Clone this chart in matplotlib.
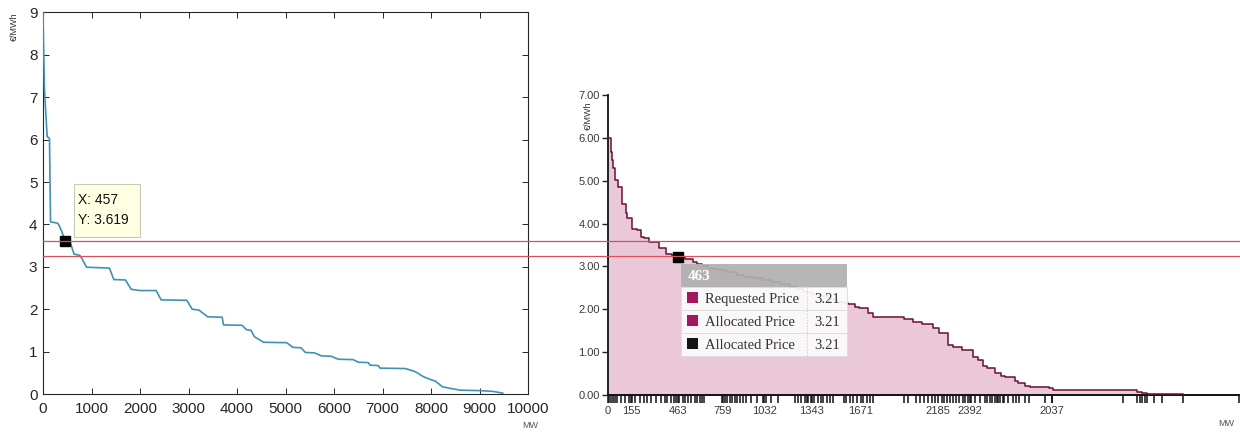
import matplotlib
matplotlib.use("Agg")
import matplotlib.pyplot as plt
from matplotlib.patches import Rectangle
from matplotlib.lines import Line2D
import matplotlib.transforms as mtransforms

# ---------------- data: left panel (MW vs €/MWh) ----------------
left_mw = [0, 12, 30, 52, 86, 134, 155, 300, 330, 380, 457, 560, 640, 760, 800,
           900, 1370, 1460, 1700, 1818, 2000, 2333, 2436, 2965, 3076, 3213, 3398,
           3694, 3722, 4107, 4190, 4290, 4361, 4546, 5027, 5151, 5320, 5410, 5598,
           5736, 5942, 6088, 6397, 6501, 6707, 6742, 6913, 6948, 7474, 7670, 7842,
           8014, 8082, 8237, 8320, 8460, 8598, 9010, 9285, 9480]
left_price = [9.0, 8.2, 7.2, 6.74, 6.07, 6.03, 4.06, 4.03, 3.98, 3.85, 3.619, 3.58,
              3.3, 3.27, 3.2, 2.99, 2.97, 2.70, 2.69, 2.47, 2.44, 2.44, 2.22, 2.21,
              2.0, 1.98, 1.82, 1.81, 1.63, 1.62, 1.52, 1.5, 1.35, 1.22, 1.21, 1.10,
              1.09, 0.98, 0.97, 0.90, 0.89, 0.82, 0.81, 0.75, 0.74, 0.68, 0.67, 0.61,
              0.6, 0.53, 0.41, 0.33, 0.31, 0.17, 0.15, 0.12, 0.09, 0.08, 0.06, 0.02]
left_marker_x = 457
left_marker_y = 3.619
left_xticks = list(range(0, 10001, 1000))
left_yticks = list(range(0, 10))

# reference price levels (red lines)
ref_levels = [3.619, 3.25]

# ---------------- data: right panel (step curve) ----------------
right_mw = [0, 18, 26, 35, 48, 66, 93, 117, 128, 159, 190, 216, 240, 269, 340, 384,
            420, 463, 509, 560, 586, 620, 660, 700, 741, 790, 851, 900, 960, 1027,
            1080, 1138, 1204, 1250, 1292, 1350, 1400, 1460, 1512, 1560, 1590, 1633,
            1662, 1721, 1755, 1958, 2015, 2075, 2151, 2191, 2251, 2284, 2339, 2416,
            2449, 2482, 2504, 2560, 2597, 2626, 2692, 2714, 2758, 2791, 2890, 2915,
            2945, 3497, 3530, 3563, 3805]
right_price = [6.0, 5.68, 5.48, 5.29, 5.02, 4.86, 4.45, 4.24, 4.14, 3.87, 3.84, 3.69,
               3.66, 3.56, 3.42, 3.28, 3.24, 3.21, 3.17, 3.10, 3.06, 3.02, 2.97, 2.95,
               2.92, 2.86, 2.80, 2.76, 2.72, 2.68, 2.63, 2.58, 2.53, 2.47, 2.41, 2.36,
               2.30, 2.24, 2.18, 2.14, 2.12, 2.06, 2.02, 1.92, 1.83, 1.77, 1.71, 1.66,
               1.57, 1.44, 1.17, 1.11, 1.05, 0.88, 0.82, 0.68, 0.62, 0.52, 0.44, 0.41,
               0.33, 0.27, 0.21, 0.18, 0.19, 0.17, 0.11, 0.07, 0.05, 0.03, 0.03]
right_marker_x = 463
right_marker_y = 3.21
right_xtick_pos = [0, 155, 463, 759, 1032, 1343, 1671, 2185, 2392, 2937]
right_xtick_lab = ["0", "155", "463", "759", "1032", "1343", "1671", "2185", "2392", "2037"]
right_bid_ticks = [4, 18, 33, 44, 62, 84, 110, 137, 161, 181, 209, 238, 260, 287, 320,
                   353, 375, 392, 414, 437, 452, 467, 496, 511, 529, 551, 573, 591, 606,
                   622, 635, 754, 772, 789, 805, 820, 838, 855, 871, 893, 915, 948, 988,
                   1025, 1047, 1080, 1124, 1235, 1257, 1279, 1301, 1318, 1325, 1347,
                   1362, 1391, 1407, 1424, 1446, 1468, 1490, 1561, 1574, 1601, 1618,
                   1649, 1689, 1711, 1733, 1755, 1958, 1986, 2037, 2063, 2090, 2119,
                   2141, 2163, 2207, 2222, 2240, 2262, 2280, 2302, 2324, 2346, 2361,
                   2383, 2399, 2427, 2460, 2493, 2504, 2526, 2537, 2560, 2571, 2582,
                   2593, 2610, 2619, 2648, 2681, 2698, 2720, 2758, 2787, 2890, 2934,
                   3404, 3501, 3519, 3534, 3552, 3563, 3611, 3662, 3805, 4175]
right_yticks = [0, 1, 2, 3, 4, 5, 6, 7]
tooltip_rows = [("Requested Price", "3.21", "#a3185c"),
                ("Allocated Price", "3.21", "#a3185c"),
                ("Allocated Price", "3.21", "#151515")]

# ---------------- figure ----------------
W, H = 1240, 432
fig = plt.figure(figsize=(W / 100, H / 100), dpi=100)

sans = ["Liberation Sans", "DejaVu Sans"]
narrow = ["Liberation Sans Narrow", "Liberation Sans", "DejaVu Sans"]
serif = ["Liberation Serif", "DejaVu Serif"]

def px_box(x0, y0, x1, y1):
    return [x0 / W, 1 - y1 / H, (x1 - x0) / W, (y1 - y0) / H]

# ---- left axes (MATLAB style) ----
ax1 = fig.add_axes(px_box(43, 12.4, 528, 394))
ax1.plot(left_mw, left_price, color="#3f92b3", lw=1.2, zorder=3)
ax1.plot([left_marker_x], [left_marker_y], marker="s", ms=6.5, color="black",
         mec="black", zorder=5)
ax1.set_xlim(0, 10000)
ax1.set_ylim(0, 9)
ax1.set_xticks(left_xticks)
ax1.set_yticks(left_yticks)
ax1.tick_params(direction="in", top=True, right=True, length=4, width=0.7,
                colors="#262626", labelsize=11)
ax1.tick_params(axis="x", pad=6)
ax1.tick_params(axis="y", pad=4)
for lab in ax1.get_xticklabels() + ax1.get_yticklabels():
    lab.set_family(sans)
for s in ax1.spines.values():
    s.set_color("#262626")
    s.set_linewidth(0.8)

fig.text(14 / W, 1 - 27 / H, "€/MWh", rotation=90, ha="center", va="center",
         fontsize=6.5, color="#333333", family=sans)
fig.text(530 / W, 1 - 426 / H, "MW", ha="center", va="center",
         fontsize=6.5, color="#555555", family=sans)

# ---- right axes (web chart style) ----
ax2 = fig.add_axes(px_box(608, 95, 1240, 395))
ax2.fill_between(right_mw, right_price, 0, step="post", color="#eac8d7", lw=0,
                 zorder=1)
ax2.step(right_mw, right_price, where="post", color="#6a1038", lw=1.1, zorder=3)
ax2.plot([right_marker_x], [right_marker_y], marker="s", ms=7, color="black",
         zorder=6)
ax2.set_xlim(0, 4180)
ax2.set_ylim(0, 7)
ax2.set_yticks(right_yticks)
ax2.set_yticklabels([f"{v:.2f}" for v in right_yticks])
ax2.set_xticks(right_xtick_pos)
ax2.set_xticklabels(right_xtick_lab)
ax2.set_xticks(right_bid_ticks, minor=True)
ax2.tick_params(axis="y", direction="out", length=4, width=1, colors="#222222",
                labelsize=8, pad=2)
ax2.tick_params(axis="x", which="major", direction="out", length=6, width=1.1,
                colors="#111111", labelsize=8, pad=2)
ax2.tick_params(axis="x", which="minor", direction="out", length=6, width=1.1,
                colors="#111111")
for lab in ax2.get_xticklabels() + ax2.get_yticklabels():
    lab.set_family(narrow)
    lab.set_color("#3a3a3a")
ax2.spines["top"].set_visible(False)
ax2.spines["right"].set_visible(False)
ax2.spines["left"].set_color("#222222")
ax2.spines["left"].set_linewidth(1.4)
ax2.spines["bottom"].set_color("#111111")
ax2.spines["bottom"].set_linewidth(1.4)
ax2.patch.set_alpha(0)

fig.text(588 / W, 1 - 116 / H, "€/MWh", rotation=90, ha="center", va="center",
         fontsize=6.5, color="#333333", family=sans)
fig.text(1226 / W, 1 - 424 / H, "MW", ha="center", va="center",
         fontsize=6.5, color="#555555", family=sans)

# ---- red reference lines across both panels ----
blend = mtransforms.blended_transform_factory(fig.transFigure, ax1.transData)
for lvl in ref_levels:
    fig.add_artist(Line2D([43 / W, 1.0], [lvl, lvl], transform=blend,
                          color="#d9505a", lw=0.9, zorder=10))

# ---- tooltips (overlay in pixel space) ----
ov = fig.add_axes([0, 0, 1, 1], zorder=20)
ov.set_xlim(0, W)
ov.set_ylim(H, 0)
ov.axis("off")
ov.patch.set_alpha(0)

# left tooltip
ov.add_patch(Rectangle((74, 184), 66, 53, fc="#ffffe4", ec="#c9c9b8", lw=0.8))
ov.text(78, 199.5, f"X: {left_marker_x}", ha="left", va="center", fontsize=10,
        color="#111111", family=sans)
ov.text(78, 220, f"Y: {left_marker_y}", ha="left", va="center", fontsize=10,
        color="#111111", family=sans)

# right tooltip
tx0, tx1 = 681, 847
ov.add_patch(Rectangle((tx0, 264), tx1 - tx0, 23, fc="#b0b0b0", ec="none",
                       alpha=0.92))
ov.text(688, 276, f"{right_marker_x}", ha="left", va="center", fontsize=11,
        fontweight="bold", color="white", family=serif)
row_h = 23.1
for i, (name, val, col) in enumerate(tooltip_rows):
    y0 = 287 + i * row_h
    ov.add_patch(Rectangle((tx0, y0), tx1 - tx0, row_h, fc="#fbfbfb", ec="#dcdcdc",
                           lw=0.7, alpha=0.93))
    ov.add_patch(Rectangle((687, y0 + 5), 10.5, 10.5, fc=col, ec="none"))
    ov.text(705, y0 + row_h / 2 + 0.5, name, ha="left", va="center", fontsize=10.5,
            color="#333333", family=serif)
    ov.text(814, y0 + row_h / 2 + 0.5, val, ha="left", va="center", fontsize=10.5,
            color="#333333", family=serif)
ov.plot([807, 807], [287, 356], color="#c8c8c8", lw=0.8, ls=":")

fig.savefig("out.png", dpi=100)
